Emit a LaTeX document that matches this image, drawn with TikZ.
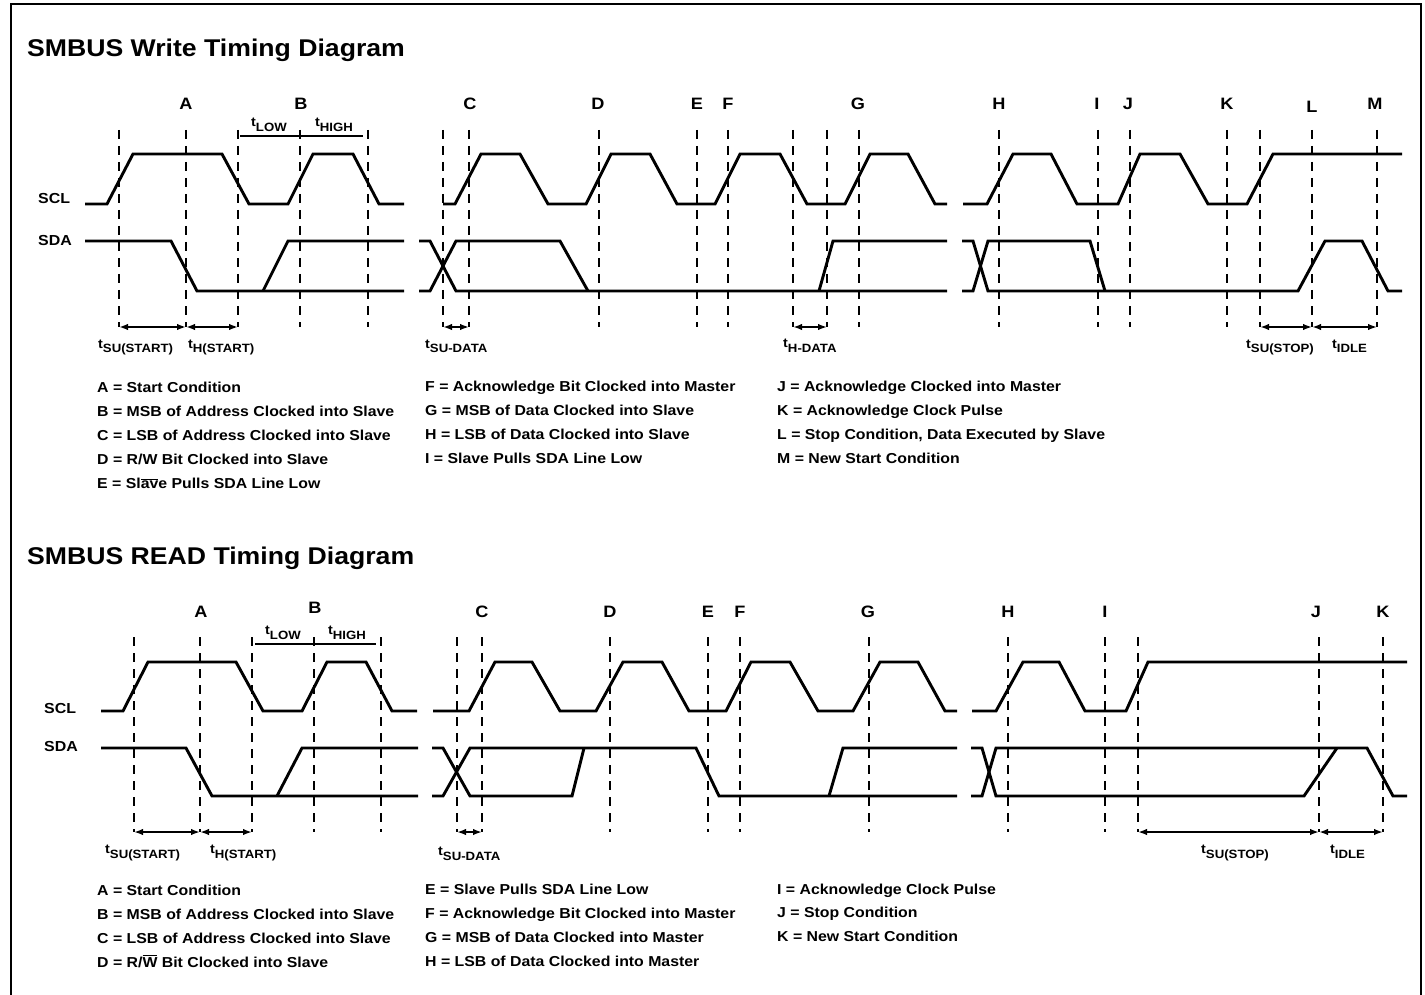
\documentclass[tikz,border=0pt]{standalone}
\usepackage{fontspec}
\setmainfont{Liberation Sans}[FakeStretch=1.1]
\usetikzlibrary{arrows.meta}
\newcommand\tsub[1]{t\raisebox{-5pt}{\fontsize{12}{12}\selectfont #1}}
\newcommand\ovl[1]{$\overline{\hbox{#1}}$}
\begin{document}
\begin{tikzpicture}[x=1pt,y=-1pt,
  wave/.style={line width=2.9pt, line join=miter, line cap=butt},
  guide/.style={line width=2pt, dash pattern=on 9pt off 7pt},
  dimarrow/.style={line width=2.2pt, {Latex[length=9pt,width=6.5pt]}-{Latex[length=9pt,width=6.5pt]}},
  hbar/.style={line width=2.9pt},
  letterlab/.style={font=\bfseries\fontsize{16.5}{17}\selectfont, inner sep=0pt},
  sig/.style={font=\bfseries\fontsize{14.5}{15}\selectfont, inner sep=0pt, anchor=west},
  ttl/.style={font=\bfseries\fontsize{24.2}{26}\selectfont, inner sep=0pt, anchor=base west},
  leg/.style={font=\bfseries\fontsize{14.4}{15}\selectfont, inner sep=0pt, anchor=base west},
  tim/.style={font=\bfseries\fontsize{13}{13}\selectfont, inner sep=0pt, anchor=base west},
]
\useasboundingbox (0,0) rectangle (1425,995);
\draw[line width=1.5pt] (11,1000) -- (11,4) -- (1421,4) -- (1421,1000);

% ================= WRITE =================
\node[ttl] (wtitle) at (27,56.5) {SMBUS Write Timing Diagram};

\foreach \n/\x in {A/186,B/301,C/470,D/598,E/697,F/728,G/858,H/999,I/1097,J/1128,K/1227,M/1375}
  \node[letterlab] (w\n) at (\x,104) {\n};
\node[letterlab] (wL) at (1312,107) {L};

\foreach \x in {119,186,238,300,368,443,469,599,697,728,793,827,859,999,1098,1130,1227,1260,1312,1377}
  \draw[guide] (\x,130) -- (\x,327);

\node[sig] (wscl) at (38,199) {SCL};
\node[sig] (wsda) at (38,241) {SDA};

% SCL
\draw[wave] (85,204)--(107,204)--(133,154)--(222,154)--(249,204)--(288,204)--(313,154)--(353,154)--(379,204)--(404,204);
\draw[wave] (443,204)--(455,204)--(481,154)--(520,154)--(548,204)--(586,204)--(611,154)--(650,154)--(677,204)--(715,204)--(740,154)--(780,154)--(807,204)--(845,204)--(870,154)--(908,154)--(935,204)--(947,204);
\draw[wave] (963,204)--(987,204)--(1013,154)--(1051,154)--(1077,204)--(1118,204)--(1140,154)--(1180,154)--(1208,204)--(1247,204)--(1273,154)--(1402,154);
% SDA
\draw[wave] (85,241)--(171,241)--(197,291)--(404,291);
\draw[wave] (263,291)--(288,241)--(404,241);
\draw[wave] (419,241)--(430,241)--(456,291)--(947,291);
\draw[wave] (419,291)--(430,291)--(456,241)--(560,241)--(588,291);
\draw[wave] (819,291)--(833,241)--(947,241);
\draw[wave] (962,241)--(973,241)--(988,291)--(1298,291)--(1325,241)--(1362,241)--(1388,291)--(1402,291);
\draw[wave] (962,291)--(973,291)--(988,241)--(1090,241)--(1105,291);

% tLOW / tHIGH
\draw[hbar] (240,136) -- (363,136);
\node[tim] (wtlow) at (251,127) {\tsub{LOW}};
\node[tim] (wthigh) at (315,127) {\tsub{HIGH}};

% timing arrows
\draw[dimarrow] (119,327) -- (186,327);
\draw[dimarrow] (186,327) -- (238,327);
\draw[dimarrow] (443,327) -- (469,327);
\draw[dimarrow] (793,327) -- (827,327);
\draw[dimarrow] (1260,327) -- (1312,327);
\draw[dimarrow] (1312,327) -- (1377,327);
\node[tim] (wt1) at (98,348) {\tsub{SU(START)}};
\node[tim] (wt2) at (188,348) {\tsub{H(START)}};
\node[tim] (wt3) at (425,348) {\tsub{SU-DATA}};
\node[tim] (wt4) at (783,347) {\tsub{H-DATA}};
\node[tim] (wt5) at (1246,348) {\tsub{SU(STOP)}};
\node[tim] (wt6) at (1332,348) {\tsub{IDLE}};

% legend
\node[leg] (wl1) at (97,392) {A = Start Condition};
\node[leg] (wl2) at (97,416) {B = MSB of Address Clocked into Slave};
\node[leg] (wl3) at (97,440) {C = LSB of Address Clocked into Slave};
\node[leg] (wl4) at (97,464) {D = R/W Bit Clocked into Slave};
\node[leg] (wl5) at (97,488) {E = Sl\ovl{av}e Pulls SDA Line Low};
\node[leg] (wl6) at (425,391) {F = Acknowledge Bit Clocked into Master};
\node[leg] (wl7) at (425,415) {G = MSB of Data Clocked into Slave};
\node[leg] (wl8) at (425,439) {H = LSB of Data Clocked into Slave};
\node[leg] (wl9) at (425,463) {I = Slave Pulls SDA Line Low};
\node[leg] (wl10) at (777,391) {J = Acknowledge Clocked into Master};
\node[leg] (wl11) at (777,415) {K = Acknowledge Clock Pulse};
\node[leg] (wl12) at (777,439) {L = Stop Condition, Data Executed by Slave};
\node[leg] (wl13) at (777,463) {M = New Start Condition};

% ================= READ =================
\node[ttl] (rtitle) at (27,564.5) {SMBUS READ Timing Diagram};

\foreach \n/\x in {A/201,C/482,D/610,E/708,F/740,G/868,H/1008,I/1105,J/1316,K/1383}
  \node[letterlab] (r\n) at (\x,612) {\n};
\node[letterlab] (rB) at (315,608) {B};

\foreach \x in {134,200,252,314,381,457,482,610,708,740,869,1008,1105,1138,1319,1383}
  \draw[guide] (\x,637) -- (\x,832);

\node[sig] (rscl) at (44,709) {SCL};
\node[sig] (rsda) at (44,747) {SDA};

% SCL
\draw[wave] (101,711)--(123,711)--(148,662)--(236,662)--(263,711)--(302,711)--(327,662)--(366,662)--(392,711)--(417,711);
\draw[wave] (433,711)--(469,711)--(495,662)--(532,662)--(560,711)--(596,711)--(623,662)--(662,662)--(689,711)--(726,711)--(751,662)--(790,662)--(818,711)--(853,711)--(880,662)--(918,662)--(945,711)--(957,711);
\draw[wave] (972,711)--(996,711)--(1023,662)--(1059,662)--(1085,711)--(1126,711)--(1148,662)--(1407,662);
% SDA
\draw[wave] (101,748)--(186,748)--(212,796)--(418,796);
\draw[wave] (277,796)--(302,748)--(418,748);
\draw[wave] (432,748)--(443,748)--(470,796)--(572,796)--(584,748);
\draw[wave] (432,796)--(443,796)--(470,748)--(696,748)--(719,796)--(957,796);
\draw[wave] (829,796)--(843,748)--(957,748);
\draw[wave] (971,748)--(982,748)--(996,796)--(1304,796)--(1337,748);
\draw[wave] (971,796)--(982,796)--(996,748)--(1367,748)--(1393,796)--(1407,796);

% tLOW / tHIGH
\draw[hbar] (255,644) -- (376,644);
\node[tim] (rtlow) at (265,634) {\tsub{LOW}};
\node[tim] (rthigh) at (328,634) {\tsub{HIGH}};

% timing arrows
\draw[dimarrow] (134,832) -- (200,832);
\draw[dimarrow] (200,832) -- (252,832);
\draw[dimarrow] (457,832) -- (482,832);
\draw[dimarrow] (1138,832) -- (1319,832);
\draw[dimarrow] (1319,832) -- (1383,832);
\node[tim] (rt1) at (105,853) {\tsub{SU(START)}};
\node[tim] (rt2) at (210,853) {\tsub{H(START)}};
\node[tim] (rt3) at (438,855) {\tsub{SU-DATA}};
\node[tim] (rt4) at (1201,853) {\tsub{SU(STOP)}};
\node[tim] (rt5) at (1330,853) {\tsub{IDLE}};

% legend
\node[leg] (rl1) at (97,895) {A = Start Condition};
\node[leg] (rl2) at (97,919) {B = MSB of Address Clocked into Slave};
\node[leg] (rl3) at (97,943) {C = LSB of Address Clocked into Slave};
\node[leg] (rl4) at (97,967) {D = R/\ovl{W} Bit Clocked into Slave};
\node[leg] (rl5) at (425,894) {E = Slave Pulls SDA Line Low};
\node[leg] (rl6) at (425,918) {F = Acknowledge Bit Clocked into Master};
\node[leg] (rl7) at (425,942) {G = MSB of Data Clocked into Master};
\node[leg] (rl8) at (425,966) {H = LSB of Data Clocked into Master};
\node[leg] (rl9) at (777,894) {I = Acknowledge Clock Pulse};
\node[leg] (rl10) at (777,917) {J = Stop Condition};
\node[leg] (rl11) at (777,941) {K = New Start Condition};
\end{tikzpicture}
\end{document}
